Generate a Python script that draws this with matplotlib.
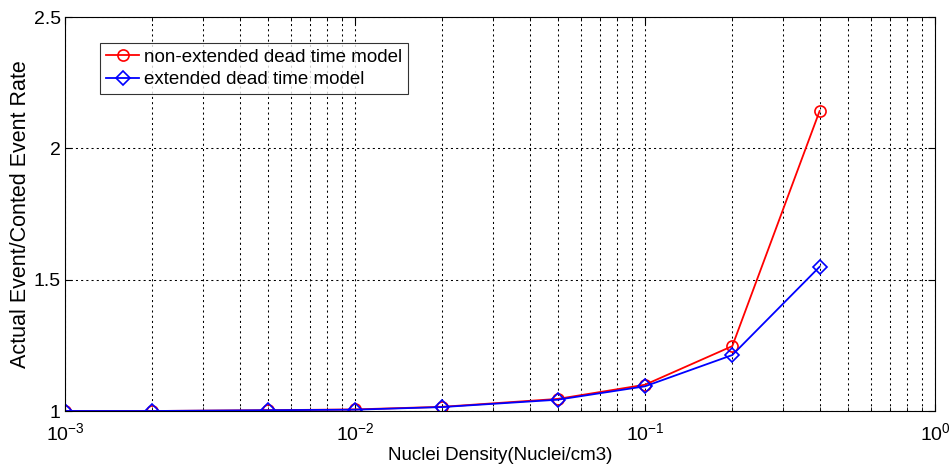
import numpy as np
import matplotlib
matplotlib.use('Agg')
import matplotlib.pyplot as plt
from matplotlib.ticker import LogLocator, NullFormatter, FixedLocator

plt.rcParams['font.family'] = ['Liberation Sans', 'DejaVu Sans']
plt.rcParams['mathtext.fontset'] = 'custom'
plt.rcParams['mathtext.rm'] = 'Liberation Sans'

density = [0.001, 0.002, 0.005, 0.01, 0.02, 0.05, 0.1, 0.2, 0.4]
non_extended = [1.0, 1.0, 1.003, 1.006, 1.016, 1.046, 1.100, 1.247, 2.142]
extended = [1.0, 1.0, 1.003, 1.005, 1.015, 1.043, 1.094, 1.213, 1.549]
yticks = [1, 1.5, 2, 2.5]
ytick_labels = ['1', '1.5', '2', '2.5']

fig = plt.figure(figsize=(9.53, 4.72), dpi=100)
ax = fig.add_axes([65/953, 1-411/472, (935-65)/953, (411-17)/472])

ax.plot(density, non_extended, color='red', marker='o', markersize=8,
        markerfacecolor='none', markeredgewidth=1.2, linewidth=1.3,
        label='non-extended dead time model')
ax.plot(density, extended, color='blue', marker='D', markersize=7,
        markerfacecolor='none', markeredgewidth=1.2, linewidth=1.3,
        label='extended dead time model')

ax.set_xscale('log')
ax.set_xlim(1e-3, 1)
ax.set_ylim(1, 2.5)
ax.yaxis.set_major_locator(FixedLocator(yticks))
ax.set_yticklabels(ytick_labels)
ax.xaxis.set_major_locator(LogLocator(base=10))
ax.xaxis.set_minor_locator(LogLocator(base=10, subs=np.arange(2, 10)))
ax.xaxis.set_minor_formatter(NullFormatter())

ax.grid(True, which='major', axis='both', linestyle=(0, (2, 3)), color='black', linewidth=0.75)
ax.grid(True, which='minor', axis='x', linestyle=(0, (2, 3)), color='black', linewidth=0.75)

ax.tick_params(which='both', direction='in', top=True, right=True, labelsize=14)
ax.tick_params(axis='x', pad=8)
ax.tick_params(axis='y', pad=3)
ax.tick_params(which='major', length=5)
ax.tick_params(which='minor', length=3)
for s in ax.spines.values():
    s.set_linewidth(0.8)

ax.set_xlabel('Nuclei Density(Nuclei/cm3)', fontsize=13.5, labelpad=2)
ax.set_ylabel('Actual Event/Conted Event Rate', fontsize=15.5, labelpad=2)

leg = ax.legend(loc='upper left', bbox_to_anchor=((100-65)/870, 1-(43-17)/394), borderaxespad=0,
                fontsize=13.5, frameon=True, fancybox=False, edgecolor='black',
                handlelength=1.8, borderpad=0.3, labelspacing=0.3, handletextpad=0.25)
leg.get_frame().set_linewidth(0.8)

fig.savefig('out.png', dpi=100)
